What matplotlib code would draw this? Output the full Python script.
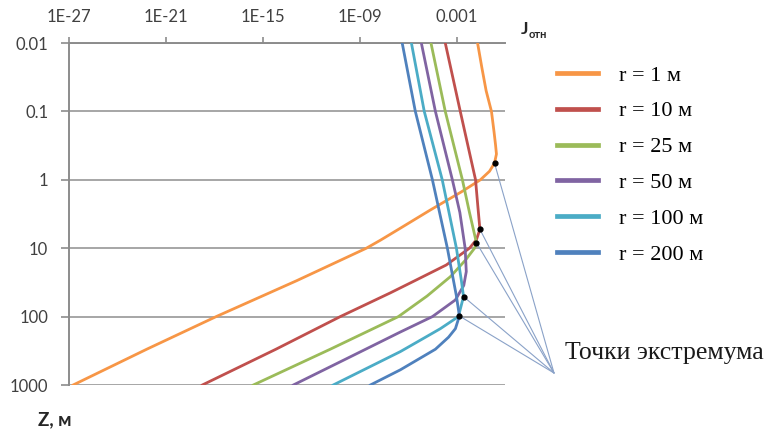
import matplotlib
matplotlib.use("Agg")
import matplotlib.pyplot as plt
from matplotlib.font_manager import FontProperties

# ---------------- data ----------------
series_labels = ["r = 1 м", "r = 10 м", "r = 25 м", "r = 50 м", "r = 100 м", "r = 200 м"]
series_colors = ["#F79646", "#C0504D", "#9BBB59", "#8064A2", "#4BACC6", "#4F81BD"]

z_r1 = [0.01, 0.023, 0.05, 0.1, 0.2, 0.31, 0.42, 0.57, 0.75, 1, 1.5, 2.76, 5, 7.6, 10, 30, 100, 300, 1000]
j_r1 = [2.0e-2, 3.7e-2, 6.8e-2, 1.45e-1, 2.1e-1, 2.6e-1, 2.95e-1, 2.24e-1, 1.1e-1, 3.0e-2, 2.0e-3,
        2.4e-5, 3.8e-7, 2.0e-8, 2.6e-9, 1.2e-13, 1.3e-18, 6.5e-23, 1.8e-27]

z_r10 = [0.01, 0.1, 1, 2.5, 5.3, 7.5, 10, 17.6, 30, 45, 100, 300, 1000]
j_r10 = [2.0e-4, 1.7e-3, 1.5e-2, 2.1e-2, 2.8e-2, 1.7e-2, 6.3e-3, 2.3e-4, 2.5e-6, 7.9e-8, 6.3e-11, 6.5e-15, 1.8e-19]

z_r25 = [0.01, 0.1, 1, 3, 8.3, 10, 15, 26, 50, 100, 300, 1000]
j_r25 = [2.6e-5, 2.0e-4, 2.3e-3, 6.3e-3, 1.7e-2, 1.3e-2, 3.5e-3, 4.2e-4, 1.5e-5, 2.5e-7, 1.5e-11, 2.6e-16]

z_r50 = [0.01, 0.1, 1, 3, 10, 22, 35, 57, 100, 168, 400, 1000]
j_r50 = [6.6e-6, 4.9e-5, 5.5e-4, 1.6e-3, 3.4e-3, 4.0e-3, 2.8e-3, 8.5e-4, 3.2e-5, 3.3e-7, 2.0e-10, 7.8e-14]

z_r100 = [0.01, 0.1, 1, 10, 30, 51, 100, 150, 200, 325, 1000]
j_r100 = [1.6e-6, 1.0e-5, 1.3e-4, 9.8e-4, 2.0e-3, 2.7e-3, 1.3e-3, 1.0e-4, 1.2e-5, 3.3e-7, 2.3e-11]

z_r200 = [0.01, 0.1, 1, 10, 50, 98, 150, 200, 300, 600, 1000]
j_r200 = [4.3e-7, 2.8e-6, 3.2e-5, 2.7e-4, 9.8e-4, 1.5e-3, 8.5e-4, 3.2e-4, 4.9e-5, 3.3e-7, 4.6e-9]

extremum_z = [0.57, 5.3, 8.3, 51, 98]
extremum_j = [2.24e-1, 2.8e-2, 1.7e-2, 2.7e-3, 1.5e-3]

x_ticks = [1e-27, 1e-21, 1e-15, 1e-9, 1e-3]
x_tick_labels = ["1E-27", "1E-21", "1E-15", "1E-09", "0.001"]
y_ticks = [0.01, 0.1, 1, 10, 100, 1000]
y_tick_labels = ["0.01", "0.1", "1", "10", "100", "1000"]

annotation_text = "Точки экстремума"
x_label_main = "J"
x_label_sub = "отн"
y_label = "Z, м"

# ---------------- figure ----------------
W, H = 769, 432
fig = plt.figure(figsize=(W / 100, H / 100), dpi=100)
ax = fig.add_axes([69 / W, 1 - 385 / H, (505 - 69) / W, (385 - 43) / H])

tick_font = "Lato"
serif = "Liberation Serif"

zs = [z_r1, z_r10, z_r25, z_r50, z_r100, z_r200]
js = [j_r1, j_r10, j_r25, j_r50, j_r100, j_r200]
lines = []
for z, j, c, lab in zip(zs, js, series_colors, series_labels):
    ln, = ax.plot(j, z, color=c, lw=2.0, label=lab, solid_joinstyle="round", zorder=3)
    lines.append(ln)

ax.set_xscale("log")
ax.set_yscale("log")
ax.set_xlim(1e-27, 1)
ax.set_ylim(1000, 0.01)

ax.xaxis.tick_top()
ax.set_xticks(x_ticks)
ax.set_xticklabels(x_tick_labels)
ax.set_yticks(y_ticks)
ax.set_yticklabels(y_tick_labels)
ax.minorticks_off()
ax.tick_params(axis="x", which="major", direction="out", length=4, width=1.2, color="#8c8c8c",
               pad=9, labelsize=12, labelcolor="#404040")
ax.tick_params(axis="y", which="major", direction="out", length=6, width=1.2, color="#8c8c8c",
               pad=9, labelsize=12, labelcolor="#404040")
for lbl in ax.get_xticklabels() + ax.get_yticklabels():
    lbl.set_fontfamily(tick_font)

for s in ["right", "bottom"]:
    ax.spines[s].set_visible(False)
for s in ["left", "top"]:
    ax.spines[s].set_color("#8c8c8c")
    ax.spines[s].set_linewidth(1.4)
ax.yaxis.grid(True, color="#a6a6a6", lw=1.4)
ax.set_axisbelow(True)

# extremum points
ax.plot(extremum_j, extremum_z, "o", color="black", ms=3.5, zorder=5, clip_on=False)

# annotation lines to extremum points
apex = (554 / W, 1 - 373 / H)
for ej, ez in zip(extremum_j, extremum_z):
    ax.annotate("", xy=(ej, ez), xycoords="data", xytext=apex, textcoords="figure fraction",
                arrowprops=dict(arrowstyle="-", color="#8aa2c8", lw=0.8, shrinkA=0, shrinkB=0),
                annotation_clip=False)
fig.text(565 / W, 1 - 353 / H, annotation_text, fontfamily=serif, fontsize=18.5,
         ha="left", va="center", color="#1a1a1a")

# axis titles
fig.text(521 / W, 1 - 29 / H, x_label_main, fontfamily=tick_font, fontweight="bold",
         fontsize=12.5, ha="left", va="center", color="#262626")
fig.text(529 / W, 1 - 35 / H, x_label_sub, fontfamily=tick_font, fontweight="bold",
         fontsize=8, ha="left", va="center", color="#262626")
fig.text(38 / W, 1 - 420 / H, y_label, fontfamily=tick_font, fontweight="bold",
         fontsize=13.5, ha="left", va="center", color="#262626")

# legend
leg = ax.legend(handles=lines, labels=series_labels, loc="upper left",
                bbox_to_anchor=(557 / W, 1 - 65 / H), bbox_transform=fig.transFigure,
                frameon=False, prop=FontProperties(family=serif, size=16),
                handlelength=1.85, handletextpad=0.95, labelspacing=0.69, borderpad=0,
                borderaxespad=0)
for h in leg.legend_handles:
    h.set_linewidth(3.4)

fig.savefig("out.png", dpi=100)
